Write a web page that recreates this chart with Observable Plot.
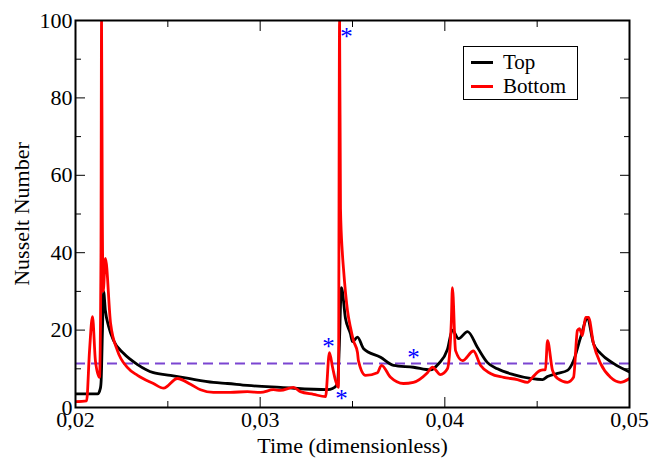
<!DOCTYPE html>
<html>
<head>
<meta charset="utf-8">
<script src="https://cdn.jsdelivr.net/npm/d3@7"></script>
<script src="https://cdn.jsdelivr.net/npm/@observablehq/plot@0.6"></script>
<style>
  body { margin: 0; background: #fff; }
  #wrap { position: relative; width: 668px; height: 459px; font-family: "Liberation Serif", "DejaVu Serif", serif; }
  #wrap svg, #wrap svg text { font-family: "Liberation Serif", "DejaVu Serif", serif !important; }
  #legend { position: absolute; left: 463px; top: 46px; width: 113px; height: 52px; border: 1.5px solid #000; background: #fff; font-size: 21px; }
  #legend .row { position: absolute; left: 0; height: 24px; line-height: 24px; }
  #legend .sw { position: absolute; left: 7px; top: 11px; width: 22px; height: 3px; }
  #legend .lab { position: absolute; left: 39px; top: 0; white-space: nowrap; }
</style>
</head>
<body>
<div id="wrap"></div>
<script>
// ---- data ----
const topT = [0.0200,0.0212,0.02135,0.02139,0.02146,0.02152,0.02162,0.02179,0.02206,0.0226,0.02336,0.02422,0.02514,0.02612,0.02747,0.02823,0.02931,0.0311,0.03365,0.03392,0.03419,0.03428,0.0344,0.03462,0.03489,0.035,0.03527,0.0356,0.03652,0.03722,0.0383,0.03922,0.03966,0.04014,0.04041,0.04074,0.04123,0.04177,0.04231,0.04285,0.04372,0.04464,0.04529,0.04556,0.0461,0.04664,0.04697,0.04735,0.04772,0.04805,0.04843,0.04913,0.0500];
const topNu = [3.5,3.5,5,7,20,30,25,21,17.3,14,11.1,9.0,8.3,7.5,6.5,6.2,5.7,5.2,4.6,4.9,6.2,15,31,23,19,17,18.2,15.2,13,10.9,10.4,9.7,11.3,15,20,17.8,19.6,15.5,11.6,10,8.5,7.5,7.2,8,8.8,9.6,12.1,18.1,23,16.5,14,11.4,9.2];

const botT = [0.0200,0.0206,0.02076,0.02092,0.02108,0.0213,0.02138,0.02141,0.02145,0.0215,0.02162,0.0219,0.02227,0.02282,0.02336,0.02422,0.02477,0.02552,0.02623,0.02677,0.02747,0.02839,0.02931,0.03002,0.03072,0.0311,0.0318,0.03218,0.03289,0.03354,0.03375,0.03392,0.03408,0.03424,0.0343,0.03435,0.03445,0.03451,0.03473,0.03489,0.03505,0.03527,0.03532,0.0357,0.03635,0.03657,0.03706,0.03776,0.0383,0.03906,0.03933,0.03976,0.04014,0.04035,0.04041,0.04058,0.04096,0.04155,0.04193,0.04247,0.04318,0.04393,0.04448,0.04475,0.04518,0.04545,0.04556,0.04583,0.0461,0.04664,0.04697,0.04718,0.04729,0.04745,0.04762,0.04778,0.04805,0.04843,0.04897,0.04951,0.0500];
const botNu = [1.5,1.7,14.7,23.5,12,7.8,40,100,52,30,38.5,21.7,14.7,10.3,8.3,6.2,5.0,7.5,6,4.6,3.9,3.9,4.1,3.9,4.6,4.4,5.2,4.1,3.4,2.8,14.2,10.4,7,5.2,100,51.4,40,36,25,20.7,17.3,14.2,12.1,8.3,9,10.9,7.8,6.2,6.5,9,10.4,8.5,10,22,31,14.7,12.1,14.6,10.9,8.8,7.8,7.2,6.5,7.8,9.6,9.8,17.3,9.6,7.5,6.5,7.8,19.9,20.4,18.6,23.3,23.3,16.5,11.4,7.8,6.5,7.5];

const meanNu = 11.4;
const starT = [0.03467, 0.0337, 0.0344, 0.0383];
const starNu = [96.9, 16.8, 3.6, 14.2];

const xMajor = [0.02, 0.03, 0.04, 0.05];
const xMinor = [0.025, 0.035, 0.045];
const yMajor = [0, 20, 40, 60, 80, 100];
const yMinor = [10, 30, 50, 70, 90];
const seriesNames = ["Top", "Bottom"];
const seriesColors = ["#000000", "#ff0000"];

// ---- build ----
const topData = topT.map((t, i) => ({t, nu: topNu[i]}));
const botData = botT.map((t, i) => ({t, nu: botNu[i]}));
const stars = starT.map((t, i) => ({t, nu: starNu[i]}));
const fmtX = d => d3.format(".2f")(d).replace(".", ",");
const blank = () => "";

const chart = Plot.plot({
  width: 668,
  height: 459,
  marginLeft: 75,
  marginRight: 39,
  marginTop: 20,
  marginBottom: 52,
  style: "font-family: 'Liberation Serif', serif; font-size: 22px; background: #fff; color: #000;",
  x: {domain: [0.02, 0.05]},
  y: {domain: [0, 100]},
  marks: [
    Plot.ruleY([meanNu], {stroke: "#7b45d1", strokeWidth: 2, strokeDasharray: "10,6"}),
    Plot.line(topData, {x: "t", y: "nu", stroke: seriesColors[0], strokeWidth: 2.8, curve: "monotone-x", clip: true}),
    Plot.line(botData, {x: "t", y: "nu", stroke: seriesColors[1], strokeWidth: 2.8, curve: "monotone-x", clip: true}),
    Plot.text(stars, {x: "t", y: "nu", text: () => "*", fill: "#0000ff", fontSize: 25, dy: 5}),
    // axes with inward ticks
    Plot.axisX({anchor: "bottom", ticks: xMajor, tickSize: -10, tickPadding: 14, tickFormat: fmtX, fontSize: 22, label: "Time (dimensionless)", labelAnchor: "center", labelOffset: 45, labelArrow: "none"}),
    Plot.axisX({anchor: "bottom", ticks: xMinor, tickSize: -6, tickFormat: blank, label: null}),
    Plot.axisX({anchor: "top", ticks: xMajor, tickSize: -10, tickFormat: blank, label: null}),
    Plot.axisX({anchor: "top", ticks: xMinor, tickSize: -6, tickFormat: blank, label: null}),
    Plot.axisY({anchor: "left", ticks: yMajor, tickSize: -10, tickPadding: 13, tickFormat: d => String(d), fontSize: 22, label: "Nusselt Number", labelAnchor: "center", labelOffset: 62, labelArrow: "none"}),
    Plot.axisY({anchor: "left", ticks: yMinor, tickSize: -6, tickFormat: blank, label: null}),
    Plot.axisY({anchor: "right", ticks: yMajor, tickSize: -10, tickFormat: blank, label: null}),
    Plot.axisY({anchor: "right", ticks: yMinor, tickSize: -6, tickFormat: blank, label: null}),
    Plot.frame({stroke: "#000", strokeWidth: 2})
  ]
});

const wrap = document.getElementById("wrap");
wrap.appendChild(chart);

// legend overlay
const legend = document.createElement("div");
legend.id = "legend";
seriesNames.forEach((name, i) => {
  const row = document.createElement("div");
  row.className = "row";
  row.style.top = (3 + i * 24) + "px";
  row.innerHTML = `<span class="sw" style="background:${seriesColors[i]}"></span><span class="lab">${name}</span>`;
  legend.appendChild(row);
});
wrap.appendChild(legend);
</script>
</body>
</html>
